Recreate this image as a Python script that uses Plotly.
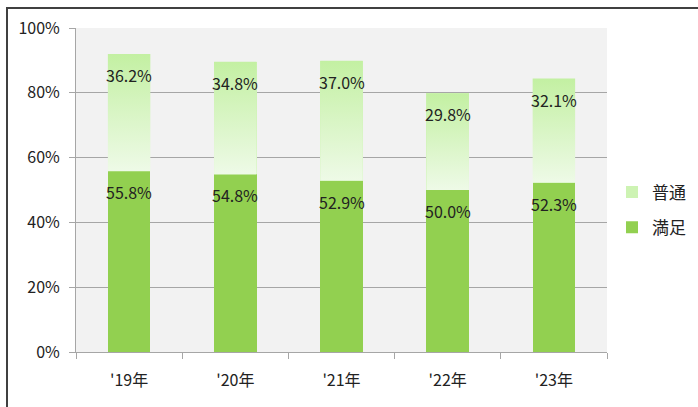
import plotly.graph_objects as go

categories = ["'19年", "'20年", "'21年", "'22年", "'23年"]
manzoku = [55.8, 54.8, 52.9, 50.0, 52.3]
futsu = [36.2, 34.8, 37.0, 29.8, 32.1]
y_ticks = [0, 20, 40, 60, 80, 100]
y_tick_labels = ["0%", "20%", "40%", "60%", "80%", "100%"]

FONT = "Noto Sans CJK JP"
TXT = "#222222"
BAR_W = 0.4

W, H = 698, 407
L, T = 76, 28
PW, PH = 531, 324

fig = go.Figure()
fig.add_trace(go.Bar(
    x=categories, y=manzoku, name="満足", width=BAR_W,
    marker=dict(color="#92d050", line=dict(width=0)),
    legendrank=2, legendgroup="m",
))
fig.add_trace(go.Bar(
    x=categories, y=futsu, name="普通", width=BAR_W,
    marker=dict(color="#cdf3b3", line=dict(width=0)),
    legendrank=1, legendgroup="f",
))

# vertical gradient overlay for the 普通 segments
for i, c in enumerate(categories):
    y0 = manzoku[i]
    y1 = manzoku[i] + futsu[i]
    fig.add_trace(go.Scatter(
        x=[i - BAR_W / 2, i + BAR_W / 2, i + BAR_W / 2, i - BAR_W / 2, i - BAR_W / 2],
        y=[y0, y0, y1, y1, y0],
        xaxis="x2", yaxis="y", mode="lines", line=dict(width=0),
        fill="toself",
        fillgradient=dict(type="vertical",
                          colorscale=[[0, "#eefae7"], [1, "#c3f0a2"]]),
        showlegend=False, hoverinfo="skip",
    ))

annotations = []
for i, c in enumerate(categories):
    annotations.append(dict(x=c, y=manzoku[i], text=f"{manzoku[i]:.1f}%", showarrow=False,
                            yanchor="middle", yshift=-21, font=dict(family=FONT, size=16, color=TXT)))
    annotations.append(dict(x=c, y=manzoku[i] + futsu[i], text=f"{futsu[i]:.1f}%", showarrow=False,
                            yanchor="middle", yshift=-21, font=dict(family=FONT, size=16, color=TXT)))

fig.update_layout(
    width=W, height=H,
    margin=dict(l=L, r=W - L - PW, t=T, b=H - T - PH, autoexpand=False),
    barmode="stack",
    plot_bgcolor="#f2f2f2", paper_bgcolor="white",
    font=dict(family=FONT, size=16, color=TXT),
    annotations=annotations,
    legend=dict(x=(612 - 76) / PW, y=(352 - 210) / PH, xanchor="left", yanchor="middle",
                traceorder="grouped", tracegroupgap=10, font=dict(size=17), itemwidth=30,
                bgcolor="rgba(0,0,0,0)"),
    shapes=[dict(type="rect", xref="paper", yref="paper",
                 x0=(7 - L) / PW, x1=1.3, y0=-0.3, y1=(T + PH - 8) / PH,
                 line=dict(color="#404040", width=2), layer="above")],
    xaxis=dict(showline=True, linecolor="#a6a6a6", linewidth=1, ticks="outside",
               tickson="boundaries", ticklen=6, tickcolor="#a6a6a6",
               ticklabelstandoff=14, showgrid=False, range=[-0.5, 4.5]),
    xaxis2=dict(overlaying="x", range=[-0.5, 4.5], visible=False),
    yaxis=dict(range=[0, 100], tickvals=y_ticks, ticktext=y_tick_labels,
               showline=True, linecolor="#a6a6a6", linewidth=1, ticks="outside",
               ticklen=6, tickcolor="#a6a6a6", gridcolor="#a6a6a6", gridwidth=1,
               ticklabelstandoff=6, zeroline=False),
)

fig.write_html("out.html", config={"displayModeBar": False},
               post_script="document.body.style.margin='0px';")
